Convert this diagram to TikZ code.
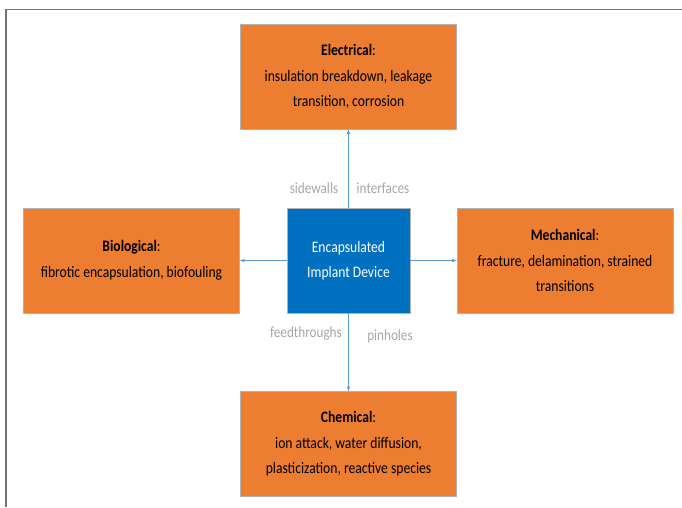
\documentclass[tikz,border=0pt]{standalone}
\usepackage{fontspec}
\setmainfont{Carlito}
\newfontfamily\boxfont[FakeStretch=0.85]{Carlito}
\usetikzlibrary{positioning,arrows}

\definecolor{failorange}{HTML}{ED7D31}
\definecolor{deviceblue}{HTML}{0070C0}
\definecolor{linkblue}{HTML}{5B9BD5}
\definecolor{labelgray}{HTML}{A6A6A6}

\tikzset{
	mode/.style={draw=gray!60,fill=failorange,minimum width=216pt,minimum height=105pt,
		align=center,font=\boxfont\fontsize{16}{25.5}\selectfont,text=black},
	device/.style={draw=gray!60,fill=deviceblue,minimum width=123pt,minimum height=105pt,
		align=center,font=\boxfont\fontsize{16}{25.5}\selectfont,text=white},
	link/.style={draw=linkblue,-latex,line width=0.6pt},
	site/.style={text=labelgray,font=\boxfont\fontsize{15.5}{15}\selectfont}
}

\begin{document}
\begin{tikzpicture}[x=1pt,y=-1pt,on grid]
	\useasboundingbox (0,0) rectangle (682,507);
	% frame
	\draw[gray!90!black,line width=1.2pt] (6,507) -- (6,9.5) -- (682,9.5);

	\node[device] (dev) at (348.5,260.5) {Encapsulated\\Implant Device};
	\node[mode,above=184pt of dev] (elec) {\textbf{Electrical}:\\insulation breakdown, leakage\\transition, corrosion};
	\node[mode,left=217pt of dev] (bio) {\textbf{Biological}:\\fibrotic encapsulation, biofouling};
	\node[mode,right=216.5pt of dev] (mech) {\textbf{Mechanical}:\\fracture, delamination, strained\\transitions};
	\node[mode,below=183.5pt of dev] (chem) {\textbf{Chemical}:\\ion attack, water diffusion,\\plasticization, reactive species};

	\draw[link] (dev) -- (elec);
	\draw[link] (dev) -- (bio);
	\draw[link] (dev) -- (mech);
	\draw[link] (dev) -- (chem);

	% defect sites
	\node[site] (side) at (314,188) {sidewalls};
	\node[site] (inter) at (383,188) {interfaces};
	\node[site] (feed) at (306,333) {feedthroughs};
	\node[site] (pin) at (390,336) {pinholes};
\end{tikzpicture}
\end{document}
